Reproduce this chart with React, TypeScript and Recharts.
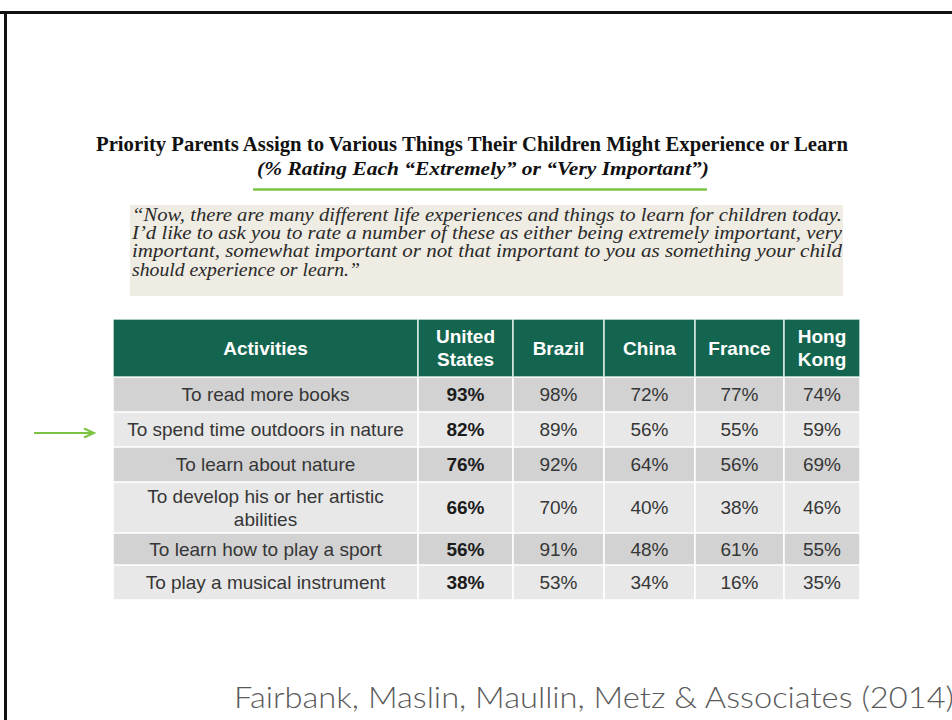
import React from 'react';
import { BarChart, Bar, XAxis, YAxis, LabelList } from 'recharts';

// table content
const headers = ['Activities', 'United States', 'Brazil', 'China', 'France', 'Hong Kong'];
const activities = [
  'To read more books',
  'To spend time outdoors in nature',
  'To learn about nature',
  'To develop his or her artistic abilities',
  'To learn how to play a sport',
  'To play a musical instrument',
];
const unitedStates = [93, 82, 76, 66, 56, 38];
const brazil = [98, 89, 92, 70, 91, 53];
const china = [72, 56, 64, 40, 48, 34];
const france = [77, 55, 56, 38, 61, 16];
const hongKong = [74, 59, 69, 46, 55, 35];

const title = 'Priority Parents Assign to Various Things Their Children Might Experience or Learn';
const subtitle = '(% Rating Each \u201cExtremely\u201d or \u201cVery Important\u201d)';
const quoteLines = [
  '\u201cNow, there are many different life experiences and things to learn for children today.',
  'I\u2019d like to ask you to rate a number of these as either being extremely important, very',
  'important, somewhat important or not that important to you as something your child',
  'should experience or learn.\u201d',
];
const source = 'Fairbank, Maslin, Maullin, Metz & Associates (2014)';

// layout
const TABLE_LEFT = 113;
const COL_WIDTHS = [305, 95, 91, 91, 89, 76];
const COL_MAX_CHARS = [32, 8, 8, 8, 8, 5];
const TABLE_WIDTH = COL_WIDTHS.reduce((a, b) => a + b, 0);
const HEADER_TOP = 319;
const HEADER_HEIGHT = 58;
const ROW_HEIGHTS = [35, 35, 35, 51, 32, 35];
const QUOTE_LENGTHS = [710, 710, 710, 228];

const GREEN = '#14654f';
const ROW_DARK = '#d2d2d2';
const ROW_LIGHT = '#e8e8e8';
const ACCENT = '#7cc242';
const SANS = "'Liberation Sans', Arial, sans-serif";
const SERIF = "'Liberation Serif', 'Times New Roman', serif";
const LINE_H = 23;

// one bar segment per column; its length is the column's width
const widthKeys = COL_WIDTHS.map((w) => () => w);

// greedy word wrap by character count
function wrap(text: string, max: number): string[] {
  const lines: string[] = [];
  let cur = '';
  text.split(' ').forEach((w) => {
    if (cur && (cur + ' ' + w).length > max) {
      lines.push(cur);
      cur = w;
    } else {
      cur = cur ? cur + ' ' + w : w;
    }
  });
  if (cur) lines.push(cur);
  return lines;
}

type CellStyle = { color: string; weight: string | number };

const cellLabel = (text: string, maxChars: number, s: CellStyle) => (props: any) => {
  const vb = props.viewBox || props;
  const { x, y, width, height } = vb;
  const lines = wrap(text, maxChars);
  const cx = x + width / 2;
  const first = y + height / 2 - ((lines.length - 1) * LINE_H) / 2 + 6.5;
  return (
    <text textAnchor="middle" fill={s.color} fontWeight={s.weight} fontSize={19} fontFamily={SANS}>
      {lines.map((l, i) => (
        <tspan key={i} x={cx} y={first + i * LINE_H}>
          {l}
        </tspan>
      ))}
    </text>
  );
};

function TableRow({
  top,
  height,
  fill,
  stroke,
  cells,
  styles,
}: {
  top: number;
  height: number;
  fill: string;
  stroke: string;
  cells: string[];
  styles: CellStyle[];
}) {
  const data = [{ activity: cells[0] }];
  return (
    <div style={{ position: 'absolute', left: TABLE_LEFT, top, width: TABLE_WIDTH, height }}>
      <BarChart
        width={TABLE_WIDTH}
        height={height}
        data={data}
        layout="vertical"
        margin={{ top: 0, right: 0, bottom: 0, left: 0 }}
        barCategoryGap={0}
      >
        <XAxis type="number" hide domain={[0, TABLE_WIDTH]} />
        <YAxis type="category" dataKey="activity" hide />
        {widthKeys.map((key, i) => (
          <Bar
            key={i}
            dataKey={key}
            stackId="row"
            fill={fill}
            stroke={stroke}
            strokeWidth={1.5}
            isAnimationActive={false}
          >
            <LabelList content={cellLabel(cells[i], COL_MAX_CHARS[i], styles[i])} />
          </Bar>
        ))}
      </BarChart>
    </div>
  );
}

export default function App() {
  const headerStyles = headers.map(() => ({ color: '#ffffff', weight: 'bold' }));
  const bodyStyles = headers.map((_, i) => ({
    color: i === 1 ? '#1c1c1c' : '#363636',
    weight: i === 1 ? 'bold' : 'normal',
  }));

  let y = HEADER_TOP + HEADER_HEIGHT;
  const rowTops = ROW_HEIGHTS.map((h) => {
    const t = y;
    y += h;
    return t;
  });

  return (
    <div
      style={{
        position: 'absolute',
        left: 0,
        top: 0,
        width: 952,
        height: 720,
        overflow: 'hidden',
        background: '#ffffff',
      }}
    >
      <svg width={952} height={720} style={{ position: 'absolute', left: 0, top: 0 }}>
        <rect x={0} y={11} width={952} height={3} fill="#111" />
        <rect x={4} y={11} width={3} height={709} fill="#111" />
        <text
          x={96}
          y={151}
          fontFamily={SERIF}
          fontWeight="bold"
          fontSize={21}
          fill="#111"
          textLength={752}
          lengthAdjust="spacingAndGlyphs"
        >
          {title}
        </text>
        <text
          x={257}
          y={175}
          fontFamily={SERIF}
          fontWeight="bold"
          fontStyle="italic"
          fontSize={19}
          fill="#111"
          textLength={452}
          lengthAdjust="spacingAndGlyphs"
        >
          {subtitle}
        </text>
        <line x1={253} x2={707} y1={189.5} y2={189.5} stroke={ACCENT} strokeWidth={2.5} />
        <rect x={130} y={205} width={713} height={91} fill="#efece3" />
        {quoteLines.map((line, i) => (
          <text
            key={i}
            x={132}
            y={220.5 + i * 18.4}
            fontFamily={SERIF}
            fontStyle="italic"
            fontSize={18.5}
            fill="#2a2a2a"
            textLength={QUOTE_LENGTHS[i]}
            lengthAdjust="spacingAndGlyphs"
          >
            {line}
          </text>
        ))}
        <line x1={34} x2={93} y1={433} y2={433} stroke={ACCENT} strokeWidth={2} />
        <polyline points="84,428.5 94,433 84,437.5" fill="none" stroke={ACCENT} strokeWidth={2} />
        <text
          x={234}
          y={708}
          fontFamily="Lato, 'Open Sans', sans-serif"
          fontWeight={300}
          fontSize={29}
          fill="#5a5a5a"
          textLength={720}
          lengthAdjust="spacingAndGlyphs"
        >
          {source}
        </text>
      </svg>

      <TableRow
        top={HEADER_TOP}
        height={HEADER_HEIGHT}
        fill={GREEN}
        stroke="#d9ebe4"
        cells={headers}
        styles={headerStyles}
      />
      {activities.map((activity, i) => (
        <TableRow
          key={activity}
          top={rowTops[i]}
          height={ROW_HEIGHTS[i]}
          fill={i % 2 === 0 ? ROW_DARK : ROW_LIGHT}
          stroke="#ffffff"
          cells={[
            activity,
            `${unitedStates[i]}%`,
            `${brazil[i]}%`,
            `${china[i]}%`,
            `${france[i]}%`,
            `${hongKong[i]}%`,
          ]}
          styles={bodyStyles}
        />
      ))}
    </div>
  );
}
